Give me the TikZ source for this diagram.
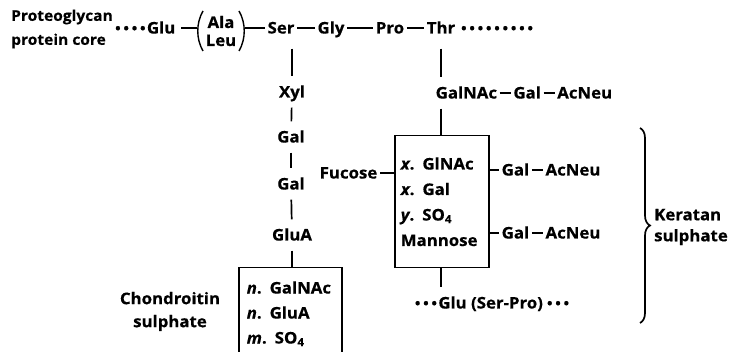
\documentclass[tikz,border=0pt]{standalone}
\usepackage{fontspec}
\setmainfont{Open Sans}[BoldFeatures={FakeStretch=1.05,FakeBold=0.5},
  BoldItalicFeatures={FakeStretch=1.05,FakeBold=0.5}]
\usetikzlibrary{decorations.pathreplacing,positioning}
% raised dot used for the "chain continues" marks, on a fixed pitch
\newcommand\sdot{\makebox[8.3pt][c]{\fontsize{14}{14}\selectfont\raisebox{0.2pt}{•}}}
\newcommand\threedots{\sdot\sdot\sdot}
\newcommand\fourdots{\sdot\sdot\sdot\sdot}
\newcommand\ninedots{\fourdots\fourdots\sdot}
\begin{document}
\begin{tikzpicture}[x=1pt,y=-1pt,
  every node/.style={font=\fontsize{16}{24}\selectfont\bfseries, inner sep=0pt},
  res/.style={text height=11pt, text depth=0pt, inner xsep=2.5pt, inner ysep=10pt},
  bond/.style={line width=1.7pt},
  paren/.style={line width=1.4pt},
  frame/.style={draw, line width=1.5pt},
  node distance=11pt]
\useasboundingbox (0,0) rectangle (734,352);

% protein core
\node[align=left, anchor=west, font=\fontsize{14.8}{24}\selectfont\bfseries] (pg) at (11,29) {Proteoglycan\\protein core};
\node[res, anchor=east] (glu) at (178,28) {\fourdots Glu};
\node[align=center, font=\fontsize{16}{18}\selectfont\bfseries] (al) at (221,31) {Ala\\Leu};
\coordinate (lpar) at ([xshift=-24pt]al.center);
\coordinate (rpar) at ([xshift=24pt]al.center);
\draw[paren] ([shift={(-18,-20)}]al.center) .. controls ([shift={(-25,-8)}]al.center)
  and ([shift={(-25,8)}]al.center) .. ([shift={(-18,20)}]al.center);
\draw[paren] ([shift={(18,-20)}]al.center) .. controls ([shift={(25,-8)}]al.center)
  and ([shift={(25,8)}]al.center) .. ([shift={(18,20)}]al.center);
\node[res] (ser) at (281,28) {Ser};
\node[res] (gly) at (331,28) {Gly};
\node[res] (pro) at (390,28) {Pro};
\node[res] (thr) at (441,28) {Thr};
\node[res, anchor=west] (tdots) at (457,28) {\ninedots};
\draw[bond] ([xshift=3pt]glu.east) -- (glu.east -| lpar);
\draw[bond] (ser.west -| rpar) -- (ser.west);
\draw[bond] (ser) -- (gly);
\draw[bond] (gly) -- (pro);
\draw[bond] (pro) -- (thr);

% chondroitin sulphate chain
\node[res] (xyl) at (292,92) {Xyl};
\node[res] (gal1) at (291,137) {Gal};
\node[res] (gal2) at (291,184) {Gal};
\node[res] (glua) at (292,235) {GluA};
\node[frame, anchor=north west, minimum width=103pt, minimum height=92pt,
      text width=87pt, inner xsep=8pt, align=left,
      font=\fontsize{16}{25}\selectfont\bfseries] (cbox) at (238,267)
  {\textit{n}. GalNAc\\\textit{n}.\enspace GluA\\\textit{m}.\enspace SO\textsubscript{4}};
\node[align=center, font=\fontsize{16}{23}\selectfont\bfseries] (chl) at (170,311.5) {Chondroitin\\sulphate};
\draw[bond, shorten <=5pt] (ser.south -| xyl.north) -- (xyl.north);
\draw[bond] (xyl) -- (gal1);
\draw[bond] (gal1) -- (gal2);
\draw[bond] (gal2) -- (glua);
\draw[bond] (glua.south) -- (glua.south |- cbox.north);

% keratan sulphate chain
\node[res, anchor=west] (galnac) at (433,93) {GalNAc};
\node[res, right=of galnac] (gal3) {Gal};
\node[res, right=of gal3] (acneu) {AcNeu};
\draw[bond] (galnac) -- (gal3);
\draw[bond] (gal3) -- (acneu);
\draw[bond, shorten <=5pt] (thr.south) -- (thr.south |- galnac.north);
\node[frame, anchor=north west, minimum width=94pt, minimum height=132pt,
      text width=82pt, inner xsep=6pt, align=left,
      font=\fontsize{16}{25.5}\selectfont\bfseries] (kbox) at (394,135)
  {\textit{x}. GlNAc\\\textit{x}. Gal\\\textit{y}. SO\textsubscript{4}\\Mannose};
\draw[bond] (thr.south |- galnac.south) -- (thr.south |- kbox.north);
\node[res, anchor=east] (fuc) at (380,173) {Fucose};
\draw[bond] (fuc.east) -- (fuc.east -| kbox.west);
\node[res, anchor=west] (ga1) at (499,170) {Gal};
\node[res, right=of ga1] (an1) {AcNeu};
\node[res, anchor=west] (ga2) at (499,233) {Gal};
\node[res, right=of ga2] (an2) {AcNeu};
\draw[bond] (ga1.west -| kbox.east) -- (ga1.west);
\draw[bond] (ga1) -- (an1);
\draw[bond] (ga2.west -| kbox.east) -- (ga2.west);
\draw[bond] (ga2) -- (an2);
\node[res] (kglu) at (492,303) {\threedots Glu (Ser-Pro)\,\threedots};
\draw[bond] (thr.south |- kbox.south) -- (thr.south |- kglu.north);

% brace grouping the keratan sulphate part
\coordinate (btop) at (640,128);
\coordinate (bbot) at (640,323);
\draw[bond, decorate, decoration={brace, amplitude=10pt}] (btop) -- (bbot);
\node[align=left, anchor=west, font=\fontsize{16}{21}\selectfont\bfseries] (ksl) at (654,227) {Keratan\\sulphate};
\end{tikzpicture}
\end{document}
